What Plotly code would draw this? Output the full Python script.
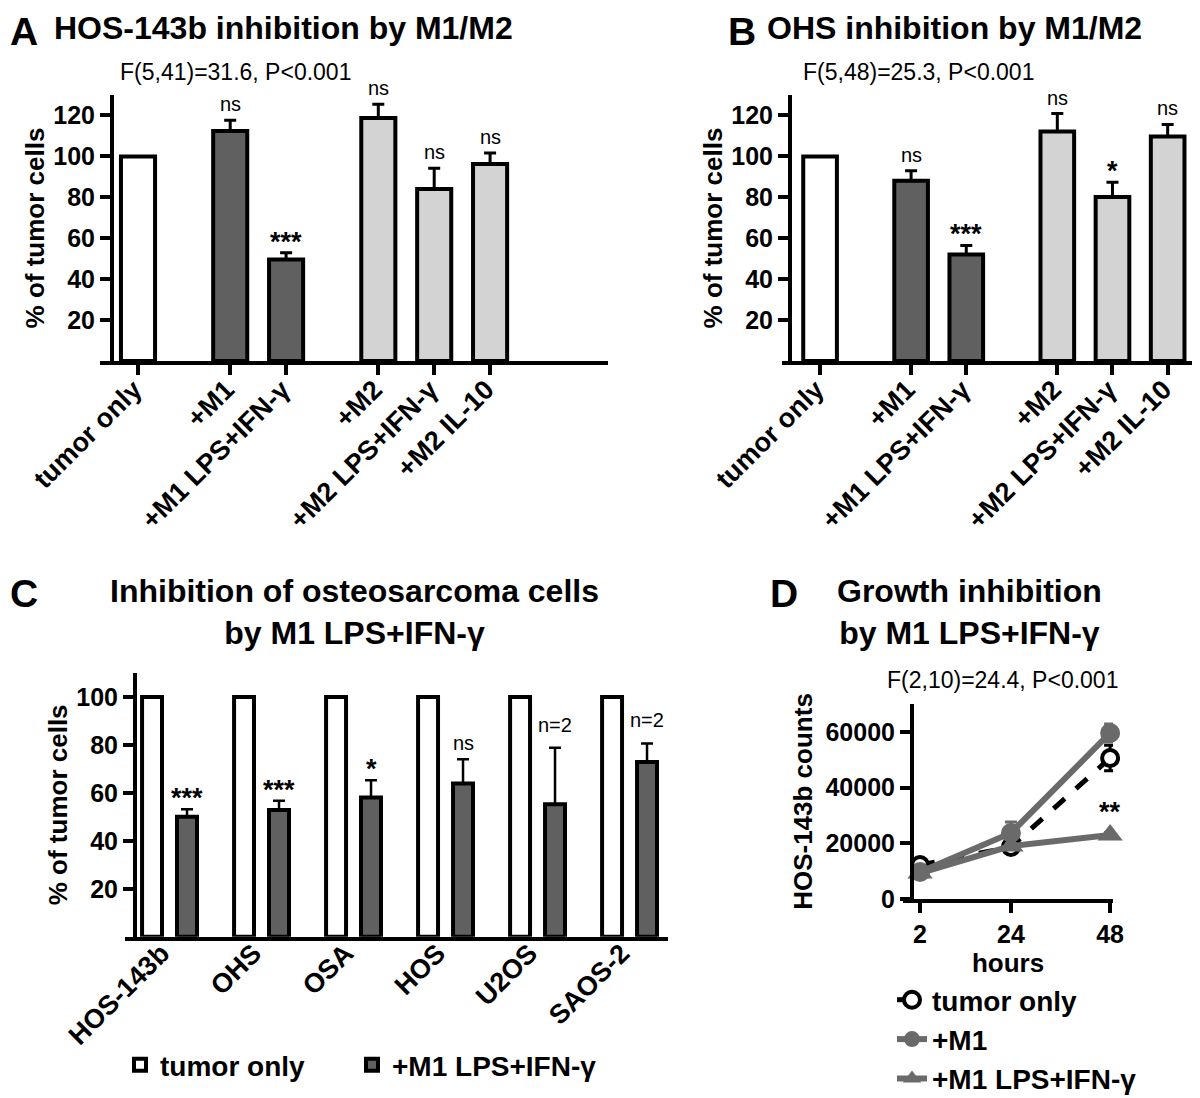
import plotly.graph_objects as go

# ---------------- data ----------------
ab_categories = ["tumor only", "+M1", "+M1 LPS+IFN-γ", "+M2", "+M2 LPS+IFN-γ", "+M2 IL-10"]
a_values = [100, 112.4, 49.6, 118.8, 84.0, 96.3]
a_errors = [0, 5.2, 3.3, 6.7, 10.2, 5.4]
a_sig = ["", "ns", "***", "ns", "ns", "ns"]

b_values = [100, 88.1, 52.1, 112.2, 80.2, 109.7]
b_errors = [0, 4.9, 4.4, 8.7, 7.1, 5.9]
b_sig = ["", "ns", "***", "ns", "*", "ns"]

c_cells = ["HOS-143b", "OHS", "OSA", "HOS", "U2OS", "SAOS-2"]
c_tumor_only = [100, 100, 100, 100, 100, 100]
c_m1_lps = [50.0, 52.8, 58.1, 63.9, 55.3, 72.9]
c_m1_lps_err = [3.2, 3.9, 7.2, 10.1, 23.5, 7.7]
c_sig = ["***", "***", "*", "ns", "n=2", "n=2"]

d_hours = [2, 24, 48]
d_tumor_only = [12200, 18700, 50600]
d_tumor_only_err = [800, 1000, 4600]
d_m1 = [9700, 23700, 59600]
d_m1_err = [600, 3900, 3200]
d_m1_lps = [9300, 19000, 23000]
d_m1_lps_err = [500, 800, 900]
d_sig = ["", "", "**"]

# ---------------- style ----------------
PAGE_OFF = 8                      # default body margin of the html page
W, H = 1200 - PAGE_OFF, 1098 - PAGE_OFF
FONT = "Liberation Sans, Arial, Helvetica, sans-serif"
DARK = "#606060"
LIGHT = "#d3d3d3"
GLINE = "#6a6a6a"


def X(px):
    return (px - PAGE_OFF) / W


def Y(py):
    return 1 - (py - PAGE_OFF) / H


ab_pos = [0, 1.65, 2.65, 4.3, 5.3, 6.3]
ab_fill = ["white", DARK, DARK, LIGHT, LIGHT, LIGHT]
c_groups = list(range(len(c_cells)))
c_off = 0.19

fig = go.Figure()

err_ab = dict(type="data", symmetric=False, color="black", thickness=3, width=6)

fig.add_trace(go.Bar(
    x=ab_pos, y=a_values, width=0.61,
    marker=dict(color=ab_fill, line=dict(color="black", width=4)),
    error_y=dict(err_ab, array=a_errors, arrayminus=[0] * len(a_errors)),
    xaxis="x", yaxis="y", showlegend=False, cliponaxis=False))

fig.add_trace(go.Bar(
    x=ab_pos, y=b_values, width=0.61,
    marker=dict(color=ab_fill, line=dict(color="black", width=4)),
    error_y=dict(err_ab, array=b_errors, arrayminus=[0] * len(b_errors)),
    xaxis="x2", yaxis="y2", showlegend=False, cliponaxis=False))

fig.add_trace(go.Bar(
    x=[g - c_off for g in c_groups], y=c_tumor_only, width=0.217,
    name="tumor only",
    marker=dict(color="white", line=dict(color="black", width=4)),
    xaxis="x3", yaxis="y3", legend="legend", cliponaxis=False))

fig.add_trace(go.Bar(
    x=[g + c_off for g in c_groups], y=c_m1_lps, width=0.217,
    name="+M1 LPS+IFN-γ",
    marker=dict(color=DARK, line=dict(color="black", width=4)),
    error_y=dict(type="data", symmetric=False, array=c_m1_lps_err,
                 arrayminus=[0] * len(c_m1_lps_err), color="black", thickness=2.5, width=6),
    xaxis="x3", yaxis="y3", legend="legend3", cliponaxis=False))

fig.add_trace(go.Scatter(
    x=d_hours, y=d_tumor_only, name="tumor only", mode="lines+markers",
    line=dict(color="black", width=5, dash="dash"),
    marker=dict(symbol="circle", size=16, color="white", line=dict(color="black", width=4)),
    error_y=dict(type="data", array=d_tumor_only_err, color="black", thickness=3, width=6),
    xaxis="x4", yaxis="y4", legend="legend2", cliponaxis=False))

fig.add_trace(go.Scatter(
    x=d_hours, y=d_m1, name="+M1", mode="lines+markers",
    line=dict(color=GLINE, width=6),
    marker=dict(symbol="circle", size=20, color=GLINE),
    error_y=dict(type="data", array=d_m1_err, color=GLINE, thickness=3, width=6),
    xaxis="x4", yaxis="y4", legend="legend2", cliponaxis=False))

fig.add_trace(go.Scatter(
    x=d_hours, y=d_m1_lps, name="+M1 LPS+IFN-γ", mode="lines+markers",
    line=dict(color=GLINE, width=6),
    marker=dict(symbol="triangle-up", size=22, color=GLINE),
    error_y=dict(type="data", array=d_m1_lps_err, color=GLINE, thickness=3, width=6),
    xaxis="x4", yaxis="y4", legend="legend2", cliponaxis=False))

# ---------------- axes ----------------
tickfont = dict(family=FONT, size=25, color="black", weight="bold")
rotfont = dict(family=FONT, size=27, color="black", weight="bold")
titlefont = dict(family=FONT, size=26, color="black", weight="bold")
common = dict(showline=True, linewidth=4, linecolor="black", ticks="outside",
              ticklen=10, tickwidth=4, tickcolor="black", showgrid=False,
              zeroline=False, tickfont=tickfont, fixedrange=True, automargin=False)

yAB_domain = [Y(361), Y(95)]
fig.update_layout(
    xaxis=dict(common, domain=[X(100), X(608)], range=[-0.68, 8.41], anchor="y",
               tickmode="array", tickvals=ab_pos, ticktext=ab_categories, tickangle=-45,
               tickfont=rotfont, ticklabelstandoff=-12, ticklabelshift=-4),
    yaxis=dict(common, domain=yAB_domain, range=[0, 130], anchor="free", position=X(112),
               tickmode="array", tickvals=[20, 40, 60, 80, 100, 120],
               title=dict(text="% of tumor cells", font=titlefont, standoff=0)),
    xaxis2=dict(common, domain=[X(782), X(1198)], range=[-0.69, 6.85], anchor="y2",
                tickmode="array", tickvals=ab_pos, ticktext=ab_categories, tickangle=-45,
                tickfont=rotfont, ticklabelstandoff=-12, ticklabelshift=-4),
    yaxis2=dict(common, domain=yAB_domain, range=[0, 130], anchor="free", position=X(790),
                tickmode="array", tickvals=[20, 40, 60, 80, 100, 120],
                title=dict(text="% of tumor cells", font=titlefont, standoff=0)),
    xaxis3=dict(common, domain=[X(125), X(668)], range=[-0.484, 5.418], anchor="y3",
                tickmode="array", tickvals=c_groups, ticktext=c_cells, tickangle=-45,
                tickcolor="rgba(0,0,0,0)", tickfont=rotfont, ticklabelstandoff=-24,
                ticklabelshift=-8),
    xaxis5=dict(common, domain=[X(125), X(668)], range=[-0.484, 5.418], anchor="y3",
                overlaying="x3", showline=False, showticklabels=False,
                tickmode="array", tickvals=c_groups[1:]),
    yaxis3=dict(common, domain=[Y(936.7), Y(673)], range=[0, 110], anchor="free", position=X(135),
                tickmode="array", tickvals=[20, 40, 60, 80, 100],
                title=dict(text="% of tumor cells", font=titlefont, standoff=0)),
    xaxis4=dict(common, domain=[X(903), X(1113)], range=[-2.12, 48.7], anchor="y4",
                tickmode="array", tickvals=d_hours,
                title=dict(text="hours", font=titlefont, standoff=0)),
    yaxis4=dict(common, domain=[Y(899), Y(704)], range=[0, 70000], anchor="free", position=X(912),
                tickmode="array", tickvals=[0, 20000, 40000, 60000], tickformat="d",
                title=dict(text="HOS-143b counts", font=titlefont, standoff=4)),
)

# ---------------- annotations ----------------
ann = []


def text(x, y, s, size, bold=True, xanchor="center", yanchor="middle"):
    ann.append(dict(x=X(x), y=Y(y), xref="paper", yref="paper", text=s, showarrow=False,
                    xanchor=xanchor, yanchor=yanchor,
                    font=dict(family=FONT, size=size, color="black",
                              weight="bold" if bold else "normal")))


text(8, 8, "A", 39, xanchor="left", yanchor="top")
text(52, 28, "HOS-143b inhibition by M1/M2", 32, xanchor="left")
text(726, 8, "B", 39, xanchor="left", yanchor="top")
text(765, 28, "OHS inhibition by M1/M2", 32, xanchor="left")
text(8, 593, "C", 39, xanchor="left")
text(354, 612, "Inhibition of osteosarcoma cells<br>by M1 LPS+IFN-γ", 32)
text(768, 593, "D", 39, xanchor="left")
text(969, 612, "Growth inhibition<br>by M1 LPS+IFN-γ", 32)
text(235, 72, "F(5,41)=31.6, P<0.001", 23, bold=False)
text(918, 72, "F(5,48)=25.3, P<0.001", 23, bold=False)
text(1002, 680, "F(2,10)=24.4, P<0.001", 23, bold=False)


def sig_ann(xs, tops, labels, xref, yref, extra=0):
    for xv, top, lab in zip(xs, tops, labels):
        if not lab:
            continue
        star = lab.startswith("*")
        shift = (-6 if star else 3) + extra
        if lab.startswith("n="):
            shift = 10
        ann.append(dict(x=xv, y=top, xref=xref, yref=yref, text=lab, showarrow=False,
                        xanchor="center", yanchor="bottom", yshift=shift,
                        font=dict(family=FONT, size=27 if star else 20, color="black",
                                  weight="bold" if star else "normal")))


sig_ann(ab_pos, [v + e for v, e in zip(a_values, a_errors)], a_sig, "x", "y")
sig_ann(ab_pos, [v + e for v, e in zip(b_values, b_errors)], b_sig, "x2", "y2")
sig_ann([g + c_off for g in c_groups], [v + e for v, e in zip(c_m1_lps, c_m1_lps_err)], c_sig, "x3", "y3")
sig_ann(d_hours, d_m1_lps, d_sig, "x4", "y4", extra=12)

legfont = dict(family=FONT, size=28, color="black", weight="bold")
fig.update_layout(
    annotations=ann,
    width=W, height=H,
    margin=dict(l=0, r=0, t=0, b=0, autoexpand=False),
    paper_bgcolor="white", plot_bgcolor="white",
    barmode="overlay",
    font=dict(family=FONT, color="black"),
    legend=dict(orientation="h", x=X(120), xanchor="left", y=Y(1065), yanchor="middle",
                font=legfont, bgcolor="rgba(0,0,0,0)"),
    legend3=dict(orientation="h", x=X(352), xanchor="left", y=Y(1065), yanchor="middle",
                 font=legfont, bgcolor="rgba(0,0,0,0)"),
    legend2=dict(orientation="v", x=X(892), xanchor="left", y=Y(975), yanchor="top",
                 font=legfont, bgcolor="rgba(0,0,0,0)", traceorder="normal"),
)

fig.write_html("out.html")
